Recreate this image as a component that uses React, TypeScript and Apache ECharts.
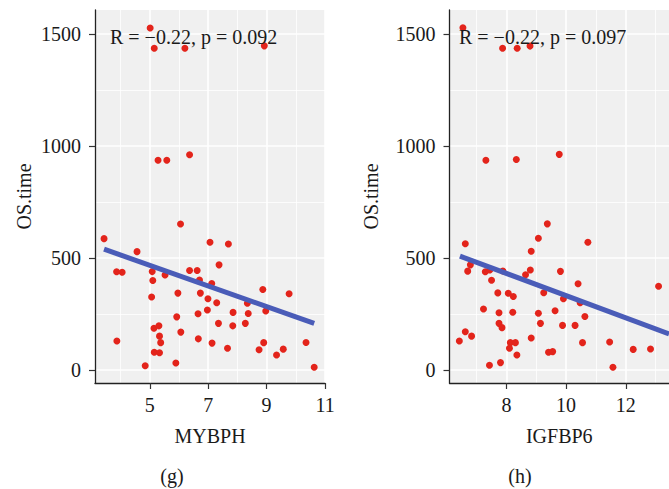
import React, { useEffect, useRef } from "react";
import * as echarts from "echarts";

// MYBPH panel (g)
const mybphX = [3.43, 4.56, 3.86, 4.05, 3.87, 6.05, 5.08, 5.10, 5.06, 5.52, 5.96, 5.92, 5.14, 5.31, 5.33, 5.37, 5.15, 5.33, 4.84, 5.89, 6.06, 6.36, 6.62, 6.70, 6.73, 7.12, 7.06, 7.69, 7.37, 6.99, 6.97, 7.29, 6.65, 7.35, 6.66, 7.13, 7.66, 7.85, 7.84, 8.37, 8.27, 8.34, 8.87, 8.97, 8.90, 8.74, 9.34, 9.57, 9.77, 10.35, 10.63, 5.01, 5.15, 6.20, 8.92, 5.28, 5.58, 6.36];
const mybphY = [586, 528, 438, 436, 129, 651, 439, 399, 326, 424, 343, 237, 186, 197, 151, 122, 79, 77, 19, 31, 169, 444, 444, 401, 343, 386, 570, 562, 469, 318, 268, 300, 251, 208, 139, 120, 97, 257, 197, 252, 208, 298, 359, 263, 122, 90, 67, 93, 340, 123, 12, 1526, 1435, 1435, 1446, 936, 936, 960];
const mybphFitX = [3.43, 10.63];
const mybphFitY = [539, 208];

// IGFBP6 panel (h)
const igfbp6X = [6.62, 6.79, 6.70, 6.42, 6.62, 6.83, 7.23, 7.29, 7.44, 7.50, 7.71, 7.75, 7.75, 7.85, 7.43, 7.80, 7.88, 8.06, 8.23, 8.21, 8.13, 8.30, 8.10, 8.35, 8.83, 8.64, 8.80, 8.83, 9.07, 9.37, 9.07, 9.14, 9.25, 9.41, 9.55, 9.63, 9.81, 9.91, 9.88, 10.30, 10.40, 10.47, 10.63, 10.55, 10.73, 11.46, 11.57, 12.25, 12.83, 13.1, 6.54, 7.87, 8.36, 8.79, 7.31, 8.33, 9.77];
const igfbp6Y = [563, 469, 441, 129, 171, 151, 272, 438, 446, 400, 344, 255, 208, 189, 21, 33, 442, 342, 328, 258, 122, 122, 97, 67, 143, 425, 446, 530, 588, 652, 253, 208, 345, 79, 82, 264, 440, 318, 199, 199, 385, 300, 239, 122, 570, 125, 12, 92, 94, 374, 1527, 1435, 1435, 1445, 936, 939, 962];
const igfbp6FitX = [6.44, 13.45];
const igfbp6FitY = [508, 161];

const yMajor = [0, 500, 1000, 1500];
const yMinor = [250, 750, 1250];
const mybphMajor = [5, 7, 9, 11];
const mybphMinor = [4, 6, 8, 10];
const igfbp6Major = [8, 10, 12];
const igfbp6Minor = [7, 9, 11, 13];

const stats = ["R = \u22120.22, p = 0.092", "R = \u22120.22, p = 0.097"];
const panelTags = ["(g)", "(h)"];
const xNames = ["MYBPH", "IGFBP6"];
const yName = "OS.time";

const FONT = '"Liberation Serif", "Times New Roman", serif';
const TXT = "#1a1a1a";

function zip(xs: number[], ys: number[]) {
  return xs.map((x, i) => [x, ys[i]]);
}

function majorAxis(gridIndex: number, min: number, max: number, ticks: number[], name: string, nameGap: number, isY: boolean) {
  return {
    type: "value",
    gridIndex,
    min,
    max,
    name,
    nameLocation: "middle",
    nameGap,
    nameTextStyle: { fontFamily: FONT, fontSize: 20, color: TXT },
    axisLine: { show: true, onZero: false, lineStyle: { color: "#222", width: 1.3 } },
    axisTick: { show: true, length: 6, customValues: ticks, lineStyle: { color: "#333", width: 1.2 } },
    axisLabel: {
      show: true,
      customValues: ticks,
      formatter: (v: number) => String(v),
      fontFamily: FONT,
      fontSize: 20,
      color: TXT,
      margin: isY ? 14 : 12,
    },
    splitLine: { show: true, lineStyle: { color: "#ffffff", width: 1.6 } },
  };
}

function minorAxis(gridIndex: number, min: number, max: number, ticks: number[]) {
  return {
    type: "value",
    gridIndex,
    min,
    max,
    axisLine: { show: false },
    axisTick: { show: false, customValues: ticks },
    axisLabel: { show: false },
    splitLine: { show: true, lineStyle: { color: "#ffffff", width: 0.8 } },
  };
}

export default function App() {
  const ref = useRef<HTMLDivElement>(null);
  useEffect(() => {
    if (!ref.current) return;
    const chart = echarts.init(ref.current, undefined, { renderer: "svg" });
    const yMin = -58;
    const yMax = 1606;
    const option = {
      animation: false,
      grid: [
        { left: 95, top: 10, width: 230, height: 373, show: true, backgroundColor: "#f0f0f0", borderWidth: 0 },
        { left: 449.5, top: 10, width: 231, height: 373, show: true, backgroundColor: "#f0f0f0", borderWidth: 0 },
      ],
      xAxis: [
        majorAxis(0, 3.12, 11.0, mybphMajor, xNames[0], 43, false),
        minorAxis(0, 3.12, 11.0, mybphMinor),
        majorAxis(1, 6.09, 13.45, igfbp6Major, xNames[1], 43, false),
        minorAxis(1, 6.09, 13.45, igfbp6Minor),
      ],
      yAxis: [
        majorAxis(0, yMin, yMax, yMajor, yName, 61, true),
        minorAxis(0, yMin, yMax, yMinor),
        majorAxis(1, yMin, yMax, yMajor, yName, 69, true),
        minorAxis(1, yMin, yMax, yMinor),
      ],
      series: [
        {
          type: "scatter",
          xAxisIndex: 0,
          yAxisIndex: 0,
          data: zip(mybphX, mybphY),
          symbolSize: 7,
          itemStyle: { color: "#e3241b", opacity: 1 },
          clip: true,
        },
        {
          type: "line",
          xAxisIndex: 0,
          yAxisIndex: 0,
          data: zip(mybphFitX, mybphFitY),
          symbol: "none",
          lineStyle: { color: "#4a5cb8", width: 5 },
          clip: true,
        },
        {
          type: "scatter",
          xAxisIndex: 2,
          yAxisIndex: 2,
          data: zip(igfbp6X, igfbp6Y),
          symbolSize: 7,
          itemStyle: { color: "#e3241b", opacity: 1 },
          clip: true,
        },
        {
          type: "line",
          xAxisIndex: 2,
          yAxisIndex: 2,
          data: zip(igfbp6FitX, igfbp6FitY),
          symbol: "none",
          lineStyle: { color: "#4a5cb8", width: 5 },
          clip: true,
        },
      ],
      graphic: [
        { type: "text", x: 110, y: 37, z: 10, style: { text: stats[0], font: `20px ${FONT}`, fill: TXT, align: "left", verticalAlign: "middle" } },
        { type: "text", x: 459, y: 37, z: 10, style: { text: stats[1], font: `20px ${FONT}`, fill: TXT, align: "left", verticalAlign: "middle" } },
        { type: "text", x: 172, y: 476, style: { text: panelTags[0], font: `20px ${FONT}`, fill: TXT, align: "center", verticalAlign: "middle" } },
        { type: "text", x: 520, y: 476, style: { text: panelTags[1], font: `20px ${FONT}`, fill: TXT, align: "center", verticalAlign: "middle" } },
      ],
    };
    chart.setOption(option as any);
    return () => chart.dispose();
  }, []);
  return (
    <div
      ref={ref}
      style={{ position: "fixed", left: 0, top: 0, width: 669, height: 489, background: "#ffffff" }}
    />
  );
}
